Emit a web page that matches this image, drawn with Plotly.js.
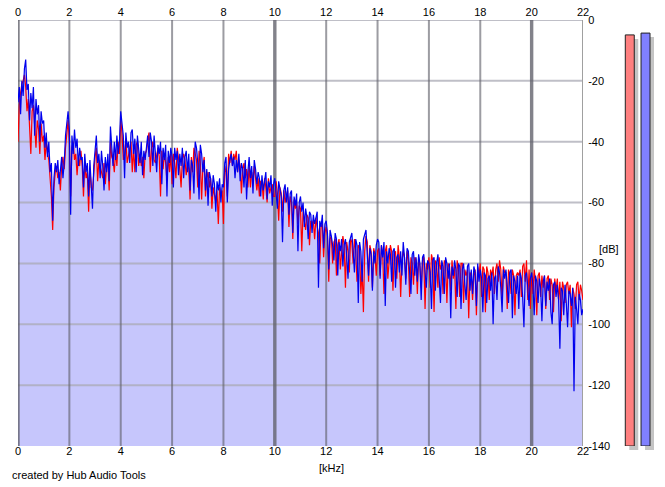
<!DOCTYPE html>
<html>
<head>
<meta charset="utf-8">
<script src="https://cdn.plot.ly/plotly-3.0.1.min.js"></script>
<style>
html,body{margin:0;padding:0;background:#fff;}
#chart{width:665px;height:487px;}
</style>
</head>
<body>
<div id="chart"></div>
<script>
// ---- data ----
const freqStartKHz = 0;
const freqStepKHz = 0.05;
const xTicks = [0, 2, 4, 6, 8, 10, 12, 14, 16, 18, 20, 22];
const xMajorTicks = [0, 10, 20];
const yTicks = [0, -20, -40, -60, -80, -100, -120, -140];

const blueDb = [
-27,-22,-31,-20,-25,-16,-13,-23,-21,-33,
-24,-29,-22,-38,-26,-31,-28,-40,-30,-34,
-33,-42,-37,-45,-40,-50,-47,-66,-52,-47,
-50,-46,-54,-48,-45,-52,-47,-38,-33,-30,
-36,-64,-38,-44,-36,-42,-39,-48,-42,-46,
-45,-55,-44,-50,-47,-58,-46,-53,-62,-48,
-42,-38,-47,-44,-52,-43,-48,-56,-45,-50,
-44,-53,-35,-42,-48,-40,-46,-38,-44,-40,
-30,-34,-38,-52,-37,-42,-40,-47,-37,-36,
-44,-39,-50,-38,-42,-47,-40,-51,-43,-46,
-42,-38,-45,-37,-40,-48,-38,-43,-50,-41,
-44,-40,-54,-42,-46,-41,-58,-43,-47,-42,
-45,-55,-42,-46,-43,-51,-44,-48,-42,-52,
-45,-43,-50,-44,-56,-46,-48,-57,-40,-42,
-47,-59,-41,-44,-50,-46,-56,-49,-61,-50,
-52,-58,-51,-54,-63,-53,-56,-52,-60,-54,
-55,-47,-45,-60,-49,-46,-44,-48,-45,-52,
-46,-50,-44,-53,-47,-49,-55,-46,-59,-50,
-45,-52,-48,-57,-46,-49,-54,-50,-52,-58,
-51,-56,-52,-50,-59,-53,-55,-51,-61,-54,
-52,-56,-62,-53,-55,-58,-73,-56,-54,-60,
-55,-64,-57,-56,-70,-58,-61,-57,-76,-60,
-58,-63,-60,-68,-62,-65,-72,-63,-64,-70,
-64,-67,-65,-63,-88,-66,-68,-64,-75,-67,
-66,-70,-82,-69,-71,-74,-79,-70,-72,-84,
-73,-76,-72,-81,-74,-72,-78,-85,-73,-71,
-70,-76,-83,-72,-74,-93,-73,-76,-86,-72,
-70,-69,-77,-84,-75,-77,-89,-76,-80,-74,
-72,-73,-85,-74,-78,-73,-94,-76,-80,-75,
-77,-86,-76,-75,-88,-78,-77,-83,-76,-84,
-73,-78,-87,-75,-76,-82,-90,-77,-76,-84,
-78,-86,-77,-80,-92,-78,-77,-83,-88,-79,
-80,-83,-95,-79,-78,-89,-80,-77,-84,-93,
-79,-81,-90,-78,-80,-85,-80,-98,-81,-84,
-79,-82,-91,-80,-81,-95,-82,-80,-87,-92,
-81,-80,-89,-82,-90,-81,-83,-94,-80,-86,
-82,-85,-96,-83,-84,-93,-85,-84,-89,-83,
-100,-85,-84,-92,-81,-83,-88,-96,-82,-85,
-82,-89,-93,-83,-82,-98,-84,-86,-90,-84,
-95,-83,-85,-91,-101,-84,-83,-88,-94,-85,
-83,-87,-97,-84,-86,-93,-85,-88,-99,-86,
-84,-94,-86,-89,-85,-96,-100,-87,-86,-91,
-87,-92,-108,-88,-89,-97,-87,-93,-101,-89,
-90,-94,-88,-122,-91,-95,-100,-90,-92,-97,
-95
];

const redDb = [
-40,-28,-24,-21,-20,-18,-22,-30,-26,-38,
-44,-30,-28,-35,-42,-33,-36,-44,-34,-40,
-38,-46,-40,-44,-46,-52,-58,-69,-55,-50,
-48,-52,-50,-56,-48,-45,-49,-42,-38,-33,
-40,-58,-42,-40,-46,-44,-51,-45,-48,-43,
-48,-58,-47,-52,-50,-63,-49,-55,-56,-50,
-45,-42,-53,-46,-48,-50,-52,-47,-54,-48,
-47,-56,-40,-45,-46,-50,-43,-48,-40,-44,
-33,-37,-46,-44,-39,-47,-45,-43,-40,-50,
-42,-50,-41,-40,-48,-44,-48,-45,-52,-44,
-43,-40,-37,-50,-42,-40,-46,-47,-44,-42,
-45,-58,-43,-49,-44,-47,-53,-45,-50,-44,
-54,-44,-47,-52,-42,-45,-49,-55,-46,-44,
-46,-51,-47,-49,-59,-45,-50,-42,-44,-46,
-55,-43,-47,-59,-48,-45,-58,-52,-50,-55,
-52,-62,-55,-57,-60,-56,-67,-55,-58,-56,
-67,-48,-50,-58,-44,-47,-43,-48,-44,-46,
-43,-50,-46,-48,-57,-49,-47,-52,-49,-55,
-48,-55,-50,-53,-48,-52,-56,-52,-58,-53,
-53,-59,-52,-55,-60,-52,-57,-55,-54,-58,
-58,-53,-57,-66,-55,-57,-63,-56,-60,-58,
-56,-68,-58,-60,-72,-59,-62,-60,-67,-61,
-62,-76,-63,-66,-69,-64,-65,-74,-66,-67,
-66,-72,-65,-68,-70,-80,-68,-67,-78,-70,
-68,-71,-86,-72,-71,-80,-73,-72,-84,-74,
-72,-82,-75,-71,-74,-88,-73,-76,-83,-72,
-73,-80,-72,-76,-86,-74,-75,-90,-82,-96,
-76,-71,-73,-86,-74,-76,-88,-75,-77,-84,
-76,-75,-84,-74,-77,-90,-76,-74,-85,-80,
-74,-76,-89,-77,-76,-85,-74,-78,-91,-79,
-76,-78,-85,-76,-79,-91,-78,-80,-87,-78,
-79,-90,-78,-81,-88,-79,-78,-95,-80,-82,
-78,-88,-77,-79,-96,-79,-80,-88,-78,-82,
-80,-90,-79,-80,-93,-80,-81,-89,-79,-85,
-81,-95,-79,-82,-91,-80,-80,-93,-82,-84,
-82,-98,-83,-84,-92,-84,-82,-97,-81,-84,
-80,-91,-81,-82,-96,-81,-83,-92,-82,-84,
-81,-90,-82,-80,-86,-79,-82,-92,-81,-83,
-83,-95,-82,-84,-90,-82,-84,-97,-84,-83,
-84,-82,-91,-81,-80,-86,-79,-92,-82,-95,
-83,-90,-82,-86,-97,-84,-83,-91,-84,-88,
-84,-95,-85,-84,-92,-85,-87,-96,-85,-89,
-85,-92,-86,-99,-86,-88,-93,-87,-86,-90,
-87,-101,-88,-90,-95,-87,-86,-92,-87,-89,
-92
];

const levelLabels = ['L', 'R'];
const levelDb = [-4.9, -4.3];
const levelColors = ['#ff8080', '#8080ff'];

// ---- derived ----
const freq = blueDb.map((_, i) => +(freqStartKHz + i * freqStepKHz).toFixed(2));
const envelope = blueDb.map((b, i) => Math.max(b, redDb[i]));
const yMin = yTicks[yTicks.length - 1], yMax = yTicks[0];
const xMin = xTicks[0], xMax = xTicks[xTicks.length - 1];

function vLines(vals) {
  const x = [], y = [];
  vals.forEach(v => { x.push(v, v, null); y.push(yMin, yMax, null); });
  return {x, y};
}
function hLines(vals) {
  const x = [], y = [];
  vals.forEach(v => { x.push(xMin, xMax, null); y.push(v, v, null); });
  return {x, y};
}
const thinV = vLines(xTicks.filter(t => !xMajorTicks.includes(t) && t !== xMax));
const thickV = vLines(xMajorTicks);
const edgeV = vLines([xMax]);
const hGrid = hLines(yTicks.filter(t => t !== yMin));

const font = {family: 'Liberation Sans, Arial, sans-serif', size: 11, color: '#000'};

const traces = [
  {x: [xMin, xMax], y: [yMin, yMin], mode: 'lines', line: {width: 0}, hoverinfo: 'skip', xaxis: 'x', yaxis: 'y'},
  {x: freq, y: envelope, mode: 'lines', fill: 'tonexty', fillcolor: '#c6c6fc', line: {width: 0}, hoverinfo: 'skip', xaxis: 'x', yaxis: 'y'},
  {x: hGrid.x, y: hGrid.y, mode: 'lines', line: {color: 'rgba(170,170,180,0.75)', width: 2}, hoverinfo: 'skip', connectgaps: false, xaxis: 'x', yaxis: 'y'},
  {x: thinV.x, y: thinV.y, mode: 'lines', line: {color: 'rgba(95,95,105,0.62)', width: 2}, hoverinfo: 'skip', connectgaps: false, xaxis: 'x', yaxis: 'y'},
  {x: thickV.x, y: thickV.y, mode: 'lines', line: {color: 'rgba(95,95,105,0.78)', width: 3.4}, hoverinfo: 'skip', connectgaps: false, xaxis: 'x', yaxis: 'y'},
  {x: edgeV.x, y: edgeV.y, mode: 'lines', line: {color: '#a0a0a0', width: 2}, hoverinfo: 'skip', connectgaps: false, xaxis: 'x', yaxis: 'y'},
  {x: freq, y: redDb, mode: 'lines', line: {color: '#ff0000', width: 1.2}, name: 'L', xaxis: 'x', yaxis: 'y'},
  {x: freq, y: blueDb, mode: 'lines', line: {color: '#0000ee', width: 1.2}, name: 'R', xaxis: 'x', yaxis: 'y'},
  // top axis carrier
  {x: [xMin, xMax], y: [yMin, yMin], mode: 'lines', line: {width: 0}, hoverinfo: 'skip', xaxis: 'x2', yaxis: 'y'},
  // level meter shadows (drawn first)
  {type: 'bar', x: levelLabels, y: levelDb.map(v => v - yMin), base: yMin, marker: {color: '#c4c4c4', line: {width: 0}}, hoverinfo: 'skip', xaxis: 'x3', yaxis: 'y3'},
  // level meters
  {type: 'bar', x: levelLabels, y: levelDb.map(v => v - yMin), base: yMin, marker: {color: levelColors, line: {color: '#202020', width: 1}}, xaxis: 'x4', yaxis: 'y4'}
];

const L = 18, W = 665, H = 487, T = 20, B = 37;
const pw = W - L, ph = H - T - B;
const fx = px => (px - L) / pw;
const mainRight = 583;

const layout = {
  width: W, height: H,
  margin: {l: L, r: 0, t: T, b: B, pad: 0},
  paper_bgcolor: '#fff', plot_bgcolor: 'rgba(0,0,0,0)',
  showlegend: false,
  font: font,
  bargap: 0.43,
  xaxis: {
    domain: [0, fx(mainRight)], range: [xMin, xMax], tickvals: xTicks, ticktext: xTicks.map(String),
    showgrid: false, zeroline: false, showline: false, ticks: '', ticklabelstandoff: -3,
    tickfont: font, anchor: 'y', fixedrange: true
  },
  xaxis2: {
    domain: [0, fx(mainRight)], range: [xMin, xMax], tickvals: xTicks, ticktext: xTicks.map(String),
    overlaying: 'x', side: 'top', showgrid: false, zeroline: false, showline: false,
    ticks: '', ticklabelstandoff: 1, tickfont: font, anchor: 'y', fixedrange: true
  },
  yaxis: {
    domain: [4 / ph, 1], range: [yMin, yMax], tickvals: yTicks, ticktext: yTicks.map(String),
    side: 'right', showgrid: false, zeroline: false, showline: false,
    ticks: 'outside', ticklen: 2, tickcolor: 'rgba(0,0,0,0)', tickfont: font, anchor: 'x', fixedrange: true
  },
  xaxis3: {domain: [fx(625.9), fx(657.4)], type: 'category', visible: false, anchor: 'y3', fixedrange: true},
  yaxis3: {domain: [0, 1 - 4 / ph], range: [yMin, yMax], visible: false, anchor: 'x3', fixedrange: true},
  xaxis4: {domain: [fx(621.9), fx(653.4)], type: 'category', visible: false, anchor: 'y4', fixedrange: true},
  yaxis4: {domain: [4 / ph, 1], range: [yMin, yMax], visible: false, anchor: 'x4', fixedrange: true},
  annotations: [
    {text: '[kHz]', xref: 'paper', yref: 'paper', x: fx(331), y: -(468 - (H - B)) / ph, xanchor: 'center', yanchor: 'middle', showarrow: false, font: font},
    {text: '[dB]', xref: 'paper', yref: 'paper', x: fx(597), y: 1 - (249 - T) / ph, xanchor: 'left', yanchor: 'middle', showarrow: false, font: font},
    {text: 'created by Hub Audio Tools', xref: 'paper', yref: 'paper', x: fx(10), y: -(475 - (H - B)) / ph, xanchor: 'left', yanchor: 'middle', showarrow: false, font: font}
  ]
};

Plotly.newPlot('chart', traces, layout, {displayModeBar: false, staticPlot: true});
</script>
</body>
</html>
